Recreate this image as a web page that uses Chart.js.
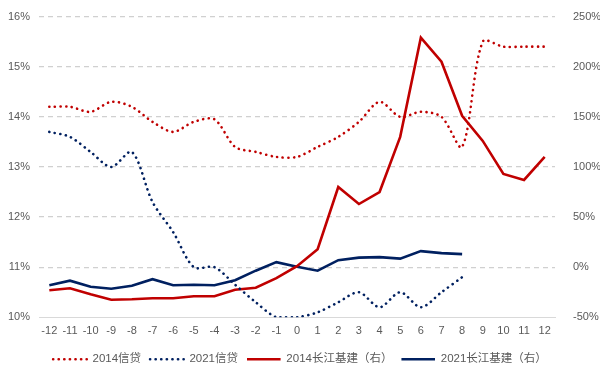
<!DOCTYPE html>
<html>
<head>
<meta charset="utf-8">
<script src="https://cdn.jsdelivr.net/npm/chart.js@4"></script>
<style>
  html, body { margin: 0; padding: 0; background: #fff; }
  #wrap { width: 600px; height: 377px; }
</style>
</head>
<body>
<div id="wrap"><canvas id="chart"></canvas></div>
<script>
const months = ['-12', '-11', '-10', '-9', '-8', '-7', '-6', '-5', '-4', '-3', '-2', '-1', '0',
  '1', '2', '3', '4', '5', '6', '7', '8', '9', '10', '11', '12'];

// left axis, %
const credit2014 = [14.2, 14.2, 14.1, 14.3, 14.2, 13.9, 13.7, 13.9, 13.95, 13.4, 13.3, 13.2, 13.2,
  13.4, 13.6, 13.9, 14.3, 14.0, 14.1, 14.0, 13.4, 15.5, 15.4, 15.4, 15.4];
const credit2021 = [13.7, 13.6, 13.3, 13.0, 13.3, 12.3, 11.7, 11.0, 11.0, 10.65, 10.3, 10.0, 10.0,
  10.1, 10.3, 10.5, 10.2, 10.5, 10.2, 10.5, 10.8];

// right axis, %
const infra2014 = [-23, -21, -27, -32.5, -32, -31, -31, -29, -29, -22.5, -20.5, -11, 1,
  18, 80, 63, 75, 130, 229, 205, 151, 126, 93, 87, 110];
const infra2021 = [-18, -13.5, -19.5, -21.5, -18.5, -12, -18, -17.5, -18, -13, -3.5, 5, 0.5,
  -3.5, 7, 9.5, 10, 8.5, 16, 14, 13];

const red = '#C00000';
const navy = '#002060';
const grey = '#595959';
const dots = [0.1, 5.5];

new Chart(document.getElementById('chart'), {
  type: 'line',
  data: {
    labels: months,
    datasets: [
      { label: '2014信贷', data: credit2014, yAxisID: 'y', borderColor: red, backgroundColor: red,
        borderWidth: 2.6, borderDash: dots, borderCapStyle: 'round', pointRadius: 0, tension: 0.3 },
      { label: '2021信贷', data: credit2021, yAxisID: 'y', borderColor: navy, backgroundColor: navy,
        borderWidth: 2.6, borderDash: dots, borderCapStyle: 'round', pointRadius: 0, tension: 0.3 },
      { label: '2014长江基建（右）', data: infra2014, yAxisID: 'y1', borderColor: red, backgroundColor: red,
        borderWidth: 2.6, pointRadius: 0, tension: 0 },
      { label: '2021长江基建（右）', data: infra2021, yAxisID: 'y1', borderColor: navy, backgroundColor: navy,
        borderWidth: 2.6, pointRadius: 0, tension: 0 },
    ],
  },
  options: {
    responsive: true,
    maintainAspectRatio: false,
    animation: false,
    layout: { padding: { top: 5, left: 0, right: 0, bottom: 2 } },
    plugins: {
      tooltip: { enabled: false },
      legend: {
        position: 'bottom',
        labels: {
          // zero-height box -> drawn as a line sample, keeps the dataset dash
          boxWidth: 33.6,
          boxHeight: 0,
          padding: 9,
          color: grey,
          font: { family: "'Liberation Sans', 'Noto Sans CJK SC', sans-serif", size: 11.5 },
        },
      },
    },
    scales: {
      x: {
        offset: true,
        grid: { display: false, drawTicks: false },
        border: { display: true, color: '#d9d9d9' },
        ticks: { color: grey, padding: 7, maxRotation: 0, autoSkip: false,
          font: { family: "'Liberation Sans', sans-serif", size: 11 } },
      },
      y: {
        position: 'left',
        min: 10, max: 16,
        ticks: { stepSize: 1, color: grey, padding: 9, callback: v => v + '%',
          font: { family: "'Liberation Sans', sans-serif", size: 11 } },
        grid: { color: ctx => ctx.tick.value === 10 ? 'rgba(0,0,0,0)' : '#d0d0d0', drawTicks: false, lineWidth: 1.2 },
        border: { display: false, dash: [5, 4] },
        afterFit: s => { s.width = 39; },
      },
      y1: {
        position: 'right',
        min: -50, max: 250,
        ticks: { stepSize: 50, color: grey, padding: 10, callback: v => v + '%',
          font: { family: "'Liberation Sans', sans-serif", size: 11 } },
        grid: { display: false },
        border: { display: false },
        afterFit: s => { s.width = 45; },
      },
    },
  },
});
</script>
</body>
</html>
